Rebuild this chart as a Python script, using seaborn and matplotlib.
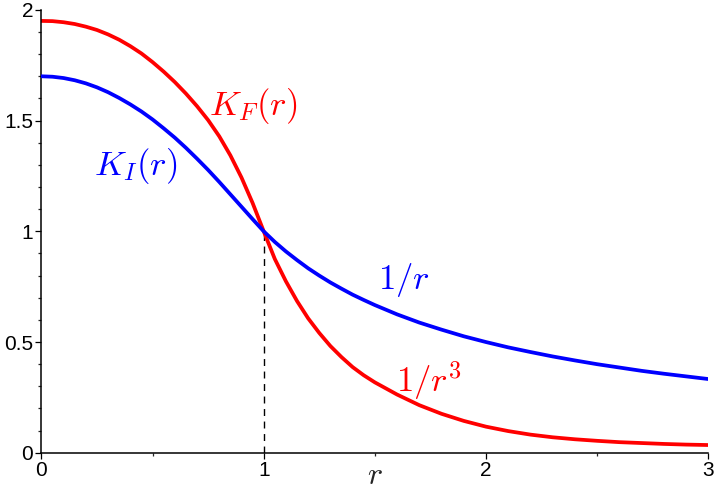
import numpy as np
import pandas as pd
import matplotlib
matplotlib.use("Agg")
import matplotlib.pyplot as plt
import seaborn as sns
from matplotlib.ticker import MultipleLocator

# ---- data ----
r_values = [0.00, 0.05, 0.10, 0.15, 0.20, 0.25, 0.30, 0.35, 0.40, 0.45,
            0.50, 0.55, 0.60, 0.65, 0.70, 0.75, 0.80, 0.85, 0.90, 0.95,
            1.00, 1.05, 1.10, 1.15, 1.20, 1.25, 1.30, 1.35, 1.40, 1.45,
            1.5, 1.6, 1.7, 1.8, 1.9, 2.0, 2.1, 2.2, 2.3, 2.4,
            2.5, 2.6, 2.7, 2.8, 2.9, 3.0]
K_I = [1.700, 1.698, 1.692, 1.682, 1.668, 1.650, 1.628, 1.602, 1.573, 1.541,
       1.505, 1.465, 1.423, 1.377, 1.328, 1.277, 1.223, 1.167, 1.111, 1.055,
       1.000, 0.952, 0.909, 0.870, 0.833, 0.800, 0.769, 0.741, 0.714, 0.690,
       0.667, 0.625, 0.588, 0.556, 0.526, 0.500, 0.476, 0.455, 0.435, 0.417,
       0.400, 0.385, 0.370, 0.357, 0.345, 0.333]
K_F = [1.950, 1.949, 1.944, 1.936, 1.924, 1.909, 1.889, 1.865, 1.836, 1.803,
       1.764, 1.721, 1.674, 1.622, 1.565, 1.502, 1.429, 1.343, 1.243, 1.128,
       1.000, 0.875, 0.774, 0.685, 0.607, 0.541, 0.482, 0.432, 0.387, 0.350,
       0.318, 0.263, 0.215, 0.176, 0.144, 0.118, 0.098, 0.082, 0.070, 0.061,
       0.054, 0.048, 0.044, 0.040, 0.037, 0.035]
x_ticks = [0, 1, 2, 3]
x_tick_labels = ["0", "1", "2", "3"]
y_ticks = [0, 0.5, 1, 1.5, 2]
y_tick_labels = ["0", "0.5", "1", "1.5", "2"]
cross_r, cross_val = 1.0, 1.0

df = pd.DataFrame({"r": r_values, "K_I": K_I, "K_F": K_F})

sns.set_style("ticks")
plt.rcParams["font.family"] = ["Liberation Sans", "DejaVu Sans"]
plt.rcParams["mathtext.fontset"] = "cm"

fig = plt.figure(figsize=(7.14, 4.92), dpi=100)
ax = fig.add_axes([0.058, 0.0797, 0.934, 0.9003])

ax.plot([cross_r, cross_r], [0, cross_val], color="black", lw=1.0,
        ls=(0, (5, 4)), zorder=1)
sns.lineplot(data=df, x="r", y="K_I", ax=ax, color="#0000ff", lw=2.7, zorder=3)
sns.lineplot(data=df, x="r", y="K_F", ax=ax, color="#ff0000", lw=2.7, zorder=2)

ax.set_xlim(0, 3)
ax.set_ylim(0, 2)
ax.set_xticks(x_ticks)
ax.set_xticklabels(x_tick_labels)
ax.set_yticks(y_ticks)
ax.set_yticklabels(y_tick_labels)
ax.xaxis.set_minor_locator(MultipleLocator(0.5))
ax.yaxis.set_minor_locator(MultipleLocator(0.1))
ax.tick_params(which="major", length=4, width=0.9, labelsize=15, pad=2,
               colors="black")
ax.tick_params(which="minor", length=2.5, width=0.9)
ax.set_ylabel("")
ax.set_xlabel("$r$", fontsize=23, labelpad=-14)
for s in ["top", "right"]:
    ax.spines[s].set_visible(False)
for s in ["left", "bottom"]:
    ax.spines[s].set_linewidth(1.1)
    ax.spines[s].set_color("black")

ax.text(0.952, 1.565, "$K_F(r)$", color="#ff0000", fontsize=25,
        ha="center", va="center")
ax.text(0.425, 1.295, "$K_I(r)$", color="#0000ff", fontsize=25,
        ha="center", va="center")
ax.text(1.631, 0.78, "$1/r$", color="#0000ff", fontsize=25,
        ha="center", va="center")
ax.text(1.745, 0.325, "$1/r^3$", color="#ff0000", fontsize=25,
        ha="center", va="center")

fig.savefig("out.png", dpi=100)
